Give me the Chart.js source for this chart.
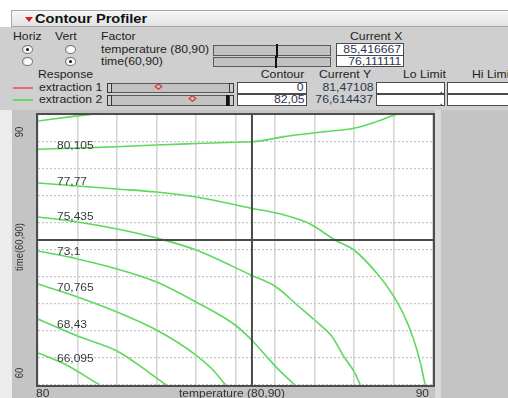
<!DOCTYPE html>
<html>
<head>
<meta charset="utf-8">
<title>Contour Profiler</title>
<script src="https://cdn.jsdelivr.net/npm/chart.js@4.4.1/dist/chart.umd.min.js"></script>
<style>
  html, body { margin:0; padding:0; width:508px; height:398px; overflow:hidden; background:#ffffff; }
  body { position:relative; font-family:"Liberation Sans", Arial, sans-serif; color:#1e1e1e; }
  .abs { position:absolute; }
  .t { position:absolute; white-space:nowrap; }
  #titlebar { left:11px; top:10px; width:497px; height:17px; background:linear-gradient(#f7f7f7,#e2e2e2); border:1px solid #a8a8a8; border-right:none; box-sizing:border-box; }
  #tri { left:25px; top:17px; width:0; height:0; border-left:4px solid transparent; border-right:4px solid transparent; border-top:5px solid #d42222; }
  #panel { left:0; top:27px; width:508px; height:83px; background:#cfcfcf; }
  .box { position:absolute; background:#ffffff; border:1px solid #4a4a4a; box-sizing:border-box; }
  .track { position:absolute; background:#c2c2c2; border:1px solid #5a5a5a; box-sizing:border-box; }
  .endcap { position:absolute; background:#cdcdcd; border:1px solid #3a3a3a; box-sizing:border-box; }
  .thumb { position:absolute; background:#111111; }
  .radio { position:absolute; width:11px; height:9px; border-radius:50%; box-sizing:border-box; border:1px solid #777; background:radial-gradient(circle at 60% 65%, #ffffff 40%, #d6d6d6 85%); }
  .radio.on::after { content:""; position:absolute; left:3px; top:2px; width:3px; height:3px; border-radius:50%; background:#111; }
  .diamond { position:absolute; width:3px; height:3px; border:1.2px solid #e02a2a; transform:scaleX(1.2) rotate(45deg); }
  #canvasWrap { left:0; top:110px; width:508px; height:288px; }
</style>
</head>
<body>
<div class="abs" id="titlebar"></div>
<div class="abs" id="tri"></div>
<div class="abs" id="panel"></div>
<div class="abs" style="left:0;top:110px;width:12px;height:288px;background:#ececec"></div>
<div class="abs" style="left:12px;top:110px;width:496px;height:288px;background:#c4c4c4"></div>
<div class="abs" style="left:435px;top:110px;width:6px;height:288px;background:#dadada"></div>
<div id="header"></div>
<div class="abs" id="canvasWrap"><canvas id="cp" width="508" height="288"></canvas></div>

<script>
// ---- Profiler settings ----
const factorNames = ['temperature (80,90)', 'time(60,90)'];
const currentX = [85.416667, 76.111111];          // current temperature, current time
const responseNames = ['extraction 1', 'extraction 2'];
const responseColors = ['#e36b6b', '#66d866'];
const contourSettings = [0, 82.05];
const currentY = [81.47108, 76.614437];

// ---- Axis ranges ----
const temperatureRange = [80, 90];
const timeRange = [60, 90];
const temperatureTickLabels = ['80', '90'];
const timeTickLabels = ['60', '90'];
const temperatureTitle = 'temperature (80,90)';
const timeTitle = 'time(60,90)';

// ---- Contour levels of extraction 2 and their traces [temperature, time] ----
const contourLevels = [82.44, 80.105, 77.77, 75.435, 73.1, 70.765, 68.43, 66.095];
const contour82_44 = [[80, 89.33], [81, 89.9], [81.5, 90.15]];
const contour80_105 = [[80, 86.19], [81, 86.33], [82, 86.47], [83, 86.67], [84, 86.83], [85, 86.98], [85.5, 87.05],
  [86.2, 87.57], [86.75, 87.89], [87.25, 88.14], [88, 88.52], [88.45, 89.08], [88.97, 89.92], [89.05, 90.05]];
const contour77_77 = [[80, 82.44], [81, 82.11], [82, 81.78], [83, 81.44], [84, 80.89], [85.37, 79.67], [86.23, 78.89],
  [86.89, 77.89], [87.52, 76.11], [88.0, 75.0], [88.6, 72.3], [88.97, 70.1], [89.25, 67.9], [89.5, 65.2], [89.69, 62.3], [89.8, 60.0]];
const contour75_435 = [[80, 78.67], [81, 78.11], [82, 77.33], [83, 76.33], [84, 75.0], [85.4, 72.2], [86.03, 70.89],
  [86.56, 68.89], [87.0, 67.22], [87.45, 65.33], [87.75, 63.11], [88.01, 61.44], [88.16, 60.0]];
const contour73_1 = [[80, 74.89], [81, 74.0], [82, 72.89], [83, 71.44], [84, 69.22], [85.04, 66.5], [85.45, 64.8],
  [85.8, 63.1], [86.05, 61.9], [86.5, 60.0]];
const contour70_765 = [[80, 71.22], [81, 69.78], [82, 68.11], [83, 66.11], [84, 63.33], [84.4, 61.8], [84.75, 60.0]];
const contour68_43 = [[80, 67.33], [81, 65.44], [82, 63.78], [82.83, 61.33], [83.24, 60.0]];
const contour66_095 = [[80, 63.56], [80.72, 62.22], [81.56, 60.0]];
const contourTraces = [contour82_44, contour80_105, contour77_77, contour75_435, contour73_1, contour70_765, contour68_43, contour66_095];

const fmt = v => String(v).replace('.', ',');

// ---- Header controls ----
const header = document.getElementById('header');
function addText(str, x, capY, opt) {
  opt = opt || {};
  const size = opt.size || 10.2, sx = opt.sx || 1.2;
  const el = document.createElement('div');
  el.className = 't';
  el.textContent = str;
  el.style.fontSize = size + 'px';
  el.style.lineHeight = size + 'px';
  if (opt.bold) el.style.fontWeight = 'bold';
  el.style.color = opt.color || '#1e1e1e';
  el.style.top = (capY - 0.49 * size) + 'px';
  if (opt.align === 'right') {
    el.style.right = (508 - x) + 'px';
    el.style.transformOrigin = 'right center';
  } else {
    el.style.left = x + 'px';
    el.style.transformOrigin = 'left center';
  }
  el.style.transform = 'scaleX(' + sx + ')';
  header.appendChild(el);
}
function addEl(cls, x1, y1, x2, y2, bg) {
  const el = document.createElement('div');
  el.className = cls;
  el.style.left = x1 + 'px';
  el.style.top = y1 + 'px';
  el.style.width = (x2 - x1) + 'px';
  el.style.height = (y2 - y1) + 'px';
  if (bg) el.style.background = bg;
  header.appendChild(el);
  return el;
}

addText('Contour Profiler', 35, 19.5, {size: 12.5, sx: 1.17, bold: true, color: '#111'});
addText('Horiz', 13, 36.5);
addText('Vert', 55, 36.5);
addText('Factor', 101, 36.5);
addText('Current X', 350, 36.5);

const valueColor = '#2c3552';
const factorRowsY = [49.5, 61.5];
const factorTrackY = [[45, 56], [57, 67]];
const factorBoxY = [[43, 56], [55, 67]];
factorNames.forEach((name, i) => {
  const cy = factorRowsY[i];
  addEl('radio' + (i === 0 ? ' on' : ''), 22, cy - 4.5, 33, cy + 4.5);
  addEl('radio' + (i === 1 ? ' on' : ''), 65, cy - 4.5, 76, cy + 4.5);
  addText(name, 101, cy);
  addEl('track', 213, factorTrackY[i][0], 331, factorTrackY[i][1]);
  const range = i === 0 ? temperatureRange : timeRange;
  const tx = 213 + (currentX[i] - range[0]) / (range[1] - range[0]) * 118;
  addEl('thumb', tx - 1, factorTrackY[i][0] - 1, tx + 1, factorTrackY[i][1] + 1);
  addEl('box', 336, factorBoxY[i][0], 404, factorBoxY[i][1]);
  addText(fmt(currentX[i]), 401, cy, {align: 'right', color: valueColor});
});

addText('Response', 38, 75);
addText('Contour', 304, 75, {align: 'right'});
addText('Current Y', 319, 75);
addText('Lo Limit', 403, 75);
addText('Hi Limit', 472, 75);

const respRowsY = [88, 100.3];
const respTrackY = [[83, 93], [95, 106]];
const respBoxY = [[82, 94], [94, 106]];
const diamondX = [159, 193];
responseNames.forEach((name, i) => {
  const cy = respRowsY[i];
  addEl('abs', 13, cy - 1, 33, cy + 0.6, responseColors[i]);
  addText(name, 39, cy);
  addEl('track', 107, respTrackY[i][0], 234, respTrackY[i][1]);
  addEl('endcap', 107, respTrackY[i][0], 112, respTrackY[i][1]);
  addEl('endcap', 229, respTrackY[i][0], 234, respTrackY[i][1]);
  if (i === 1) addEl('thumb', 226, respTrackY[i][0], 229, respTrackY[i][1]);
  addEl('diamond', diamondX[i] - 2.7, respTrackY[i][0] + 0.5, diamondX[i] + 0.3, respTrackY[i][0] + 3.5);
  addEl('box', 237, respBoxY[i][0], 307, respBoxY[i][1]);
  addText(fmt(contourSettings[i]), 304, cy, {align: 'right', color: valueColor});
  addText(fmt(currentY[i]), 373, cy, {align: 'right', color: valueColor});
  addEl('box', 376, respBoxY[i][0], 445, respBoxY[i][1]);
  addEl('box', 447, respBoxY[i][0], 512, respBoxY[i][1]);
  addText('.', 443, cy + 2, {align: 'right'});
});

// ---- Contour plot ----
const lineGreen = '#5cd95c';
const datasets = [
  { // vertical crosshair at current temperature
    data: [{x: currentX[0], y: timeRange[0]}, {x: currentX[0], y: timeRange[1]}],
    showLine: true, borderColor: '#4a4a4a', borderWidth: 2, pointRadius: 0, order: 0
  },
  { // horizontal crosshair at current time
    data: [{x: temperatureRange[0], y: currentX[1]}, {x: temperatureRange[1], y: currentX[1]}],
    showLine: true, borderColor: '#4a4a4a', borderWidth: 2, pointRadius: 0, order: 0
  }
];
contourTraces.forEach((trace, i) => {
  datasets.push({
    label: fmt(contourLevels[i]),
    data: trace.map(p => ({x: p[0], y: p[1]})),
    showLine: true,
    borderColor: lineGreen,
    borderWidth: 1.6,
    cubicInterpolationMode: 'monotone',
    pointStyle: 'line',
    pointRotation: 90,
    pointRadius: 1.6,
    pointBorderColor: '#8be88b',
    pointBorderWidth: 1,
    order: 1,
    isContour: true
  });
});

const plotDecor = {
  id: 'plotDecor',
  beforeDraw(chart) {
    const a = chart.chartArea, c = chart.ctx;
    c.save();
    c.fillStyle = '#ffffff';
    c.fillRect(a.left, a.top, a.right - a.left, a.bottom - a.top);
    c.restore();
  },
  afterDatasetsDraw(chart) {
    const a = chart.chartArea, c = chart.ctx;
    // contour value labels, set on each line near the left edge
    c.save();
    c.font = '10px "Liberation Sans", Arial, sans-serif';
    c.fillStyle = '#3a3a3a';
    c.textBaseline = 'alphabetic';
    const lx = a.left + 19;
    chart.data.datasets.forEach((ds, di) => {
      if (!ds.isContour) return;
      const pts = chart.getDatasetMeta(di).data;
      let y = null;
      for (let k = 0; k < pts.length - 1; k++) {
        if (pts[k].x <= lx && pts[k + 1].x >= lx) {
          const f = (lx - pts[k].x) / (pts[k + 1].x - pts[k].x);
          y = pts[k].y + f * (pts[k + 1].y - pts[k].y);
          break;
        }
      }
      if (y === null || y - 9 < a.top) return;
      c.save();
      c.translate(lx, y + 0.5);
      c.scale(1.2, 1);
      c.fillText(ds.label, 0, 0);
      c.restore();
    });
    c.restore();
    // plot frame
    c.save();
    c.strokeStyle = '#4d4d4d';
    c.lineWidth = 2;
    c.strokeRect(a.left - 1, a.top - 1, a.right - a.left + 2, a.bottom - a.top + 2);
    c.restore();
  },
  afterDraw(chart) {
    const a = chart.chartArea, c = chart.ctx;
    const xs = chart.scales.x, ys = chart.scales.y;
    c.save();
    c.fillStyle = '#333333';
    c.font = '10px "Liberation Sans", Arial, sans-serif';
    c.textBaseline = 'alphabetic';
    const by = a.bottom + 12;
    const drawH = (txt, x, align) => {
      c.save();
      c.translate(x, by);
      c.scale(1.2, 1);
      c.textAlign = align;
      c.fillText(txt, 0, 0);
      c.restore();
    };
    drawH(temperatureTickLabels[0], xs.getPixelForValue(temperatureRange[0]) - 2, 'left');
    drawH(temperatureTickLabels[1], xs.getPixelForValue(temperatureRange[1]) - 4, 'right');
    drawH(temperatureTitle, (a.left + a.right) / 2 - 3.5, 'center');
    // rotated labels of the time axis
    c.font = '9.5px "Liberation Sans", Arial, sans-serif';
    const drawV = (txt, y) => {
      c.save();
      c.translate(20, y);
      c.scale(1.2, 1);
      c.rotate(-Math.PI / 2);
      c.textAlign = 'center';
      c.textBaseline = 'middle';
      c.fillText(txt, 0, 0);
      c.restore();
    };
    drawV(timeTickLabels[1], ys.getPixelForValue(timeRange[1]) + 17);
    drawV(timeTitle, (a.top + a.bottom) / 2 - 3);
    drawV(timeTickLabels[0], ys.getPixelForValue(timeRange[0]) - 12);
    c.restore();
  }
};

new Chart(document.getElementById('cp'), {
  type: 'scatter',
  data: { datasets },
  options: {
    responsive: false,
    animation: false,
    events: [],
    layout: { padding: { left: 38, top: 5, right: 75, bottom: 13 } },
    plugins: { legend: { display: false }, tooltip: { enabled: false } },
    scales: {
      x: {
        type: 'linear', min: temperatureRange[0], max: temperatureRange[1],
        ticks: { display: false, stepSize: 1 },
        grid: { color: '#d6d6d6', lineWidth: 1.6, drawTicks: false },
        border: { display: false }
      },
      y: {
        type: 'linear', min: timeRange[0], max: timeRange[1],
        ticks: { display: false, stepSize: 3 },
        grid: { color: '#c4c4c4', lineWidth: 1.2, drawTicks: false },
        border: { display: false, dash: [2, 2] }
      }
    }
  },
  plugins: [plotDecor]
});
</script>
</body>
</html>
